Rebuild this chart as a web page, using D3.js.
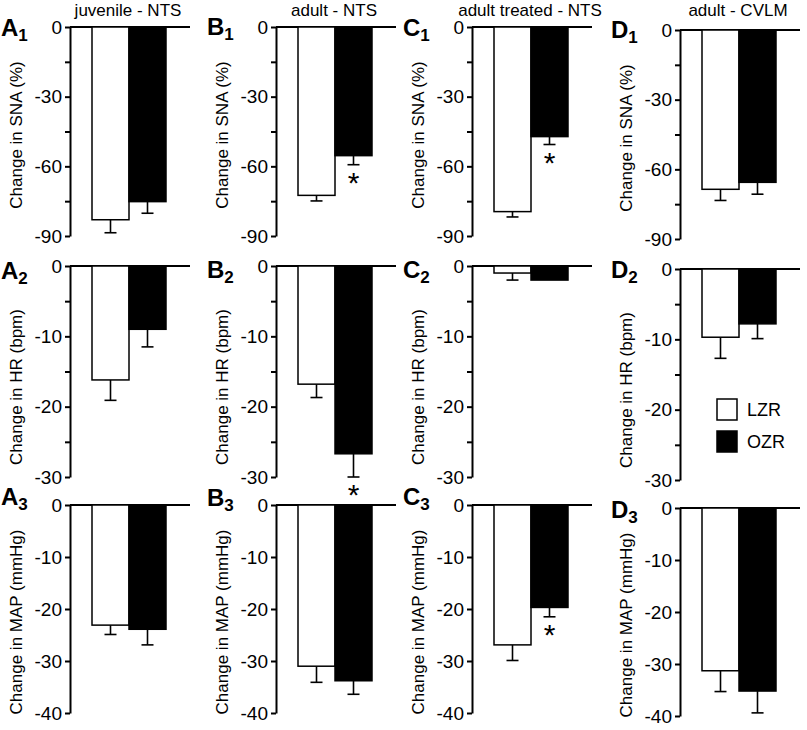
<!DOCTYPE html>
<head>
<meta charset="utf-8" />
<script src="https://d3js.org/d3.v7.min.js"></script>
<style>
    body {
        margin: 0;
        background: #fff;
        font-family: "Liberation Sans", Arial, sans-serif;
    }
</style>
</head>

<body>
    <div id="chart"></div>

    <script>
        // panel columns / rows
        var columnTitles = ["juvenile - NTS", "adult - NTS", "adult treated - NTS", "adult - CVLM"];
        var panelLetters = ["A", "B", "C", "D"];
        var groups = ["LZR", "OZR"];
        var measureLabels = ["Change in SNA (%)", "Change in HR (bpm)", "Change in MAP (mmHg)"];

        // y scales
        var yMins = [-90, -30, -40];
        var majorTicks = [[0, -30, -60, -90], [0, -10, -20, -30], [0, -10, -20, -30, -40]];
        var minorTicks = [[-15, -45, -75], [-5, -15, -25], []];

        // means (one value per column) and SEM
        var snaLZR = [-83, -72.5, -79.5, -68.6];
        var snaOZR = [-75.2, -55.4, -47.2, -65.6];
        var snaLZRsem = [5.6, 2.4, 2.3, 4.8];
        var snaOZRsem = [5.0, 3.9, 3.4, 5.1];

        var hrLZR = [-16.2, -16.8, -1.0, -9.7];
        var hrOZR = [-9.0, -26.7, -2.0, -7.8];
        var hrLZRsem = [2.9, 1.9, 1.0, 3.0];
        var hrOZRsem = [2.5, 3.3, 0, 2.1];

        var mapLZR = [-23.1, -31.0, -26.9, -31.3];
        var mapOZR = [-23.9, -33.8, -19.7, -35.2];
        var mapLZRsem = [1.8, 3.1, 3.0, 4.0];
        var mapOZRsem = [3.0, 2.6, 1.8, 4.2];

        // * = OZR differs from LZR
        var sigOZR = [[0, 1, 1, 0], [0, 1, 0, 0], [0, 0, 1, 0]];

        var rows = [
            { mean: [snaLZR, snaOZR], sem: [snaLZRsem, snaOZRsem] },
            { mean: [hrLZR, hrOZR], sem: [hrLZRsem, hrOZRsem] },
            { mean: [mapLZR, mapOZR], sem: [mapLZRsem, mapOZRsem] }
        ];

        // layout
        var width = 807, height = 730;
        var axisX = [70, 276, 472, 680];
        var colDy = [0, 0, 0, 3];
        var zeroY = [27, 266, 505];
        var panelH = [209, 211, 208];
        var labelMid = [108, 121, 117];
        var letterBase = [[36, 35, 36, 38], [279, 278, 278, 278], [505, 506, 505, 518]];

        var svg = d3.select("#chart")
            .append("svg")
            .attr("width", width)
            .attr("height", height);

        // column titles
        svg.selectAll(".title")
            .data(columnTitles)
            .join("text")
            .attr("class", "title")
            .attr("x", function (d, i) { return axisX[i] + 58; })
            .attr("y", 16)
            .attr("text-anchor", "middle")
            .style("font-size", "17px")
            .text(function (d) { return d; });

        rows.forEach(function (row, r) {
            var y = d3.scaleLinear()
                .domain([0, yMins[r]])
                .range([0, panelH[r]]);

            var x = d3.scaleBand()
                .domain(groups)
                .range([22, 96]);

            columnTitles.forEach(function (t, c) {
                var g = svg.append("g")
                    .attr("transform", "translate(" + axisX[c] + "," + (zeroY[r] + colDy[c]) + ")");

                var axis = g.append("g")
                    .call(d3.axisLeft(y)
                        .tickValues(majorTicks[r].concat(minorTicks[r]))
                        .tickFormat(function (d) { return majorTicks[r].indexOf(d) >= 0 ? d : ""; })
                        .tickSize(5)
                        .tickSizeOuter(0)
                        .tickPadding(3));
                axis.select(".domain").attr("stroke-width", 2);
                axis.selectAll(".tick line").attr("stroke-width", 2);
                axis.selectAll(".tick text")
                    .style("font-size", "19px")
                    .style("font-family", "\"Liberation Sans\", Arial, sans-serif")
                    .attr("fill", "#000");

                // zero line
                g.append("line")
                    .attr("x1", 0)
                    .attr("x2", 120)
                    .attr("y1", y(0))
                    .attr("y2", y(0))
                    .attr("stroke", "#000")
                    .attr("stroke-width", 2);

                var data = groups.map(function (name, k) {
                    return { name: name, mean: row.mean[k][c], sem: row.sem[k][c], sig: k === 1 && sigOZR[r][c] };
                });

                // error bars (behind bars)
                var err = g.selectAll(".err")
                    .data(data)
                    .join("g")
                    .attr("class", "err");
                err.append("line")
                    .attr("x1", function (d) { return x(d.name) + x.bandwidth() / 2; })
                    .attr("x2", function (d) { return x(d.name) + x.bandwidth() / 2; })
                    .attr("y1", function (d) { return y(d.mean); })
                    .attr("y2", function (d) { return y(d.mean - d.sem); })
                    .attr("stroke", "#000")
                    .attr("stroke-width", 1.6);
                err.filter(function (d) { return d.sem > 0; })
                    .append("line")
                    .attr("x1", function (d) { return x(d.name) + x.bandwidth() / 2 - 6; })
                    .attr("x2", function (d) { return x(d.name) + x.bandwidth() / 2 + 6; })
                    .attr("y1", function (d) { return y(d.mean - d.sem); })
                    .attr("y2", function (d) { return y(d.mean - d.sem); })
                    .attr("stroke", "#000")
                    .attr("stroke-width", 1.6);

                g.selectAll("rect")
                    .data(data)
                    .join("rect")
                    .attr("x", function (d) { return x(d.name); })
                    .attr("y", y(0))
                    .attr("width", x.bandwidth())
                    .attr("height", function (d) { return y(d.mean) - y(0); })
                    .attr("fill", function (d) { return d.name === "LZR" ? "#fff" : "#000"; })
                    .attr("stroke", "#000")
                    .attr("stroke-width", 1.5);

                g.selectAll(".star")
                    .data(data.filter(function (d) { return d.sig; }))
                    .join("text")
                    .attr("class", "star")
                    .attr("x", function (d) { return x(d.name) + x.bandwidth() / 2; })
                    .attr("y", function (d) { return y(d.mean - d.sem) + 28; })
                    .attr("text-anchor", "middle")
                    .style("font-size", "30px")
                    .text("*");

                // y label
                g.append("text")
                    .attr("transform", "translate(-48," + labelMid[r] + ") rotate(-90)")
                    .attr("text-anchor", "middle")
                    .style("font-size", "17px")
                    .text(measureLabels[r]);

                // panel letter with subscript
                var letter = svg.append("text")
                    .attr("x", axisX[c] - 69)
                    .attr("y", letterBase[r][c])
                    .style("font-weight", "bold")
                    .style("font-size", "24px");
                letter.append("tspan").text(panelLetters[c]);
                letter.append("tspan")
                    .attr("dy", 5)
                    .style("font-size", "17px")
                    .text(r + 1);

                // legend in D2
                if (r === 1 && c === 3) {
                    var legend = g.selectAll(".legend")
                        .data(groups)
                        .join("g")
                        .attr("class", "legend")
                        .attr("transform", function (d, i) { return "translate(37," + (130 + i * 32) + ")"; });
                    legend.append("rect")
                        .attr("width", 20)
                        .attr("height", 21)
                        .attr("fill", function (d) { return d === "LZR" ? "#fff" : "#000"; })
                        .attr("stroke", "#000")
                        .attr("stroke-width", 1.5);
                    legend.append("text")
                        .attr("x", 30)
                        .attr("y", 17)
                        .style("font-size", "18px")
                        .text(function (d) { return d; });
                }
            });
        });
    </script>
</body>
